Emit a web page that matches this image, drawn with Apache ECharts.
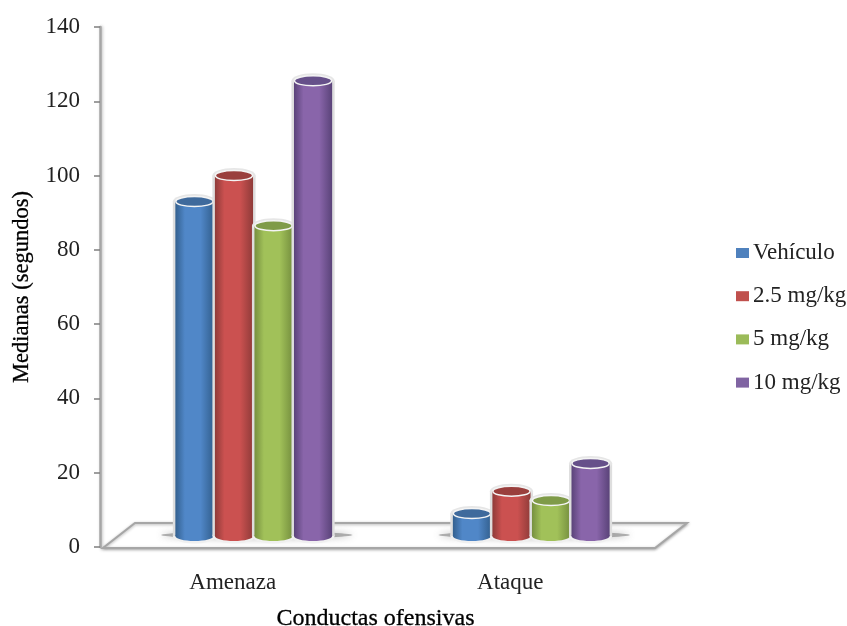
<!DOCTYPE html>
<html>
<head>
<meta charset="utf-8">
<style>html,body{margin:0;padding:0;background:#fff}#chart{width:847px;height:626px}</style>
<script src="https://cdn.jsdelivr.net/npm/echarts@6/dist/echarts.min.js"></script>
</head>
<body>
<div id="chart"></div>
<script>
// Medianas de las conductas ofensivas por dosis
const categories = ['Amenaza', 'Ataque'];
const vehiculo = [93, 9];
const dosis25 = [100, 15];
const dosis5 = [86.5, 12.5];
const dosis10 = [125.5, 22.5];
const seriesNames = ['Vehículo', '2.5 mg/kg', '5 mg/kg', '10 mg/kg'];
const yTicks = [0, 140, 20];

const seriesValues = [vehiculo, dosis25, dosis5, dosis10];
// Cylinder shading per series: edge, body, cap
const shades = [
  ['#33608f', '#5087c8', '#3f6a9c'],
  ['#8f3b39', '#cb5150', '#9a3f3d'],
  ['#76903f', '#a1c159', '#7f9b48'],
  ['#5a4379', '#8965aa', '#66508a']
];
const legendColors = ['#4f81bd', '#c0504d', '#9bbb59', '#8064a2'];

const FONT = '"Liberation Serif", serif';
const DEPTH_X = 32, DEPTH_Y = 25;        // floor depth in the oblique projection
const BAR_SHIFT_X = 15, BAR_SHIFT_Y = 11; // bars stand at mid depth on the floor
const SLOT_RATIO = 0.1425, BAR_RATIO = 0.1375, CAP_RY = 5;

function cylinder(seriesIndex) {
  return function (params, api) {
    const catIdx = api.value(0);
    const top = api.coord([catIdx, api.value(1)]);
    const base = api.coord([catIdx, 0]);
    const band = api.size([1, 0])[0];
    const cx = top[0] + BAR_SHIFT_X + (seriesIndex - 1.5) * band * SLOT_RATIO;
    const w = band * BAR_RATIO;
    const x0 = cx - w / 2;
    const yTop = top[1];
    const yBase = base[1] - BAR_SHIFT_Y;
    const s = shades[seriesIndex];
    const grad = new echarts.graphic.LinearGradient(0, 0, 1, 0, [
      { offset: 0, color: s[0] },
      { offset: 0.25, color: s[1] },
      { offset: 0.66, color: s[1] },
      { offset: 1, color: s[0] }
    ]);
    return {
      type: 'group',
      children: [
        { type: 'ellipse', shape: { cx, cy: yBase, rx: w / 2 + 2.5, ry: CAP_RY + 2.5 }, style: { fill: '#f0f0f0' } },
        { type: 'rect', shape: { x: x0 - 2.5, y: yTop, width: w + 5, height: yBase - yTop }, style: { fill: '#dedede' } },
        { type: 'ellipse', shape: { cx, cy: yTop, rx: w / 2 + 2.5, ry: CAP_RY + 2.5 }, style: { fill: '#e6e6e6' } },
        { type: 'ellipse', shape: { cx, cy: yBase, rx: w / 2, ry: CAP_RY }, style: { fill: grad } },
        { type: 'rect', shape: { x: x0, y: yTop, width: w, height: yBase - yTop }, style: { fill: grad } },
        { type: 'ellipse', shape: { cx, cy: yTop, rx: w / 2 - 0.5, ry: CAP_RY }, style: { fill: s[2], stroke: '#f4f4f4', lineWidth: 1.5 } }
      ]
    };
  };
}

function floor(params, api) {
  const cs = params.coordSys;
  const catIdx = api.value(0);
  const c = api.coord([catIdx, 0]);
  const band = api.size([1, 0])[0];
  const cx = c[0] + BAR_SHIFT_X;
  const shadow = {
    type: 'ellipse',
    shape: { cx: cx + 3, cy: c[1] - BAR_SHIFT_Y - 1, rx: band * 0.345, ry: 3.5 },
    style: { fill: 'rgba(130,130,130,0.6)', shadowBlur: 7, shadowColor: 'rgba(100,100,100,0.8)' }
  };
  if (params.dataIndex !== 0) {
    return { type: 'group', children: [shadow] };
  }
  const x = cs.x + 3, yF = cs.y + cs.height + 1;
  const xR = cs.x + cs.width;
  return {
    type: 'group',
    children: [
      {
        type: 'polygon',
        shape: { points: [[x, yF], [xR, yF], [xR + DEPTH_X, yF - DEPTH_Y], [x + DEPTH_X, yF - DEPTH_Y]] },
        style: { fill: '#fff', stroke: '#a6a6a6', lineWidth: 2, lineJoin: 'miter',
                 shadowBlur: 3, shadowColor: 'rgba(0,0,0,0.3)', shadowOffsetY: 1 }
      },
      shadow
    ]
  };
}

const chart = echarts.init(document.getElementById('chart'));
chart.setOption({
  animation: false,
  backgroundColor: '#fff',
  grid: { left: 100, right: 192, top: 27, bottom: 79, outerBoundsMode: 'none' },
  legend: {
    data: seriesNames.map((name) => ({ name, icon: 'rect' })),
    orient: 'vertical',
    left: 731,
    top: 236,
    itemWidth: 13,
    itemHeight: 10,
    itemGap: 19.2,
    itemStyle: { borderWidth: 0 },
    textStyle: { fontFamily: FONT, fontSize: 23, color: '#222', padding: [0, 0, 0, -1], height: 24, lineHeight: 24 }
  },
  xAxis: {
    type: 'category',
    data: categories,
    name: 'Conductas ofensivas',
    nameLocation: 'middle',
    nameGap: 60,
    nameTextStyle: { fontFamily: FONT, fontSize: 24, color: '#000', textBorderColor: '#000', textBorderWidth: 0.3, padding: [0, 4, 0, 0] },
    axisLine: { show: false },
    axisTick: { show: false },
    axisLabel: { margin: 24, fontFamily: FONT, fontSize: 23, color: '#222', padding: [0, 12, 0, 0] }
  },
  yAxis: {
    type: 'value',
    min: yTicks[0],
    max: yTicks[1],
    interval: yTicks[2],
    name: 'Medianas (segundos)',
    nameLocation: 'middle',
    nameGap: 66,
    nameTextStyle: { fontFamily: FONT, fontSize: 22.5, color: '#000', textBorderColor: '#000', textBorderWidth: 0.3 },
    splitLine: { show: false },
    axisLine: { show: true, lineStyle: { color: '#a6a6a6', width: 2.5, shadowBlur: 3, shadowColor: 'rgba(0,0,0,0.25)', shadowOffsetX: 1 } },
    axisTick: { show: true, length: 6, lineStyle: { color: '#7f7f7f', width: 1.5 } },
    axisLabel: { margin: 20, fontFamily: FONT, fontSize: 23, color: '#222' }
  },
  series: [
    {
      type: 'custom',
      name: 'suelo',
      silent: true,
      clip: false,
      z: 1,
      renderItem: floor,
      data: categories.map((c, i) => [i, 0])
    }
  ].concat(seriesNames.map((name, i) => ({
    type: 'custom',
    name,
    clip: false,
    z: 2 + i,
    itemStyle: { color: legendColors[i] },
    renderItem: cylinder(i),
    encode: { x: 0, y: 1 },
    data: seriesValues[i].map((v, c) => [c, v])
  })))
});
</script>
</body>
</html>
